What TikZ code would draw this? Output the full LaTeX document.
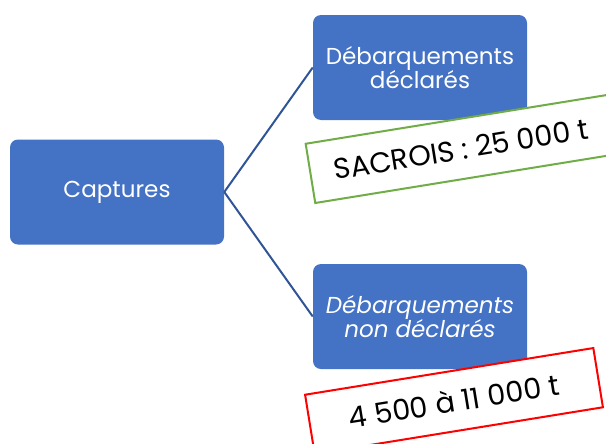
\documentclass[tikz,border=0pt]{standalone}
\usepackage{fontspec}
\setmainfont{Poppins}
\usetikzlibrary{positioning}

\definecolor{boxblue}{HTML}{4472C4}
\definecolor{linkblue}{HTML}{2F5597}
\definecolor{framegreen}{HTML}{70AD47}
\definecolor{framered}{HTML}{FF0000}

\tikzset{
  box/.style={fill=boxblue, draw=none, rounded corners=6pt, text=white,
    minimum width=160.5pt, minimum height=78.75pt, align=center,
    inner sep=0pt, font=\fontsize{17.3}{18.5}\selectfont},
  link/.style={draw=linkblue, line width=1.5pt},
  frame/.style={fill=white, line width=1.5pt, minimum height=45pt,
    inner sep=0pt, font=\fontsize{21.5}{24}\selectfont}
}

\begin{document}
\begin{tikzpicture}[x=0.75pt,y=-0.75pt]
  \useasboundingbox (0,0) rectangle (606,443);

  \node[box] (cap) at (117,192) {Captures};
  \node[box] (decl) at (420,67.5) {Débarquements\\déclarés};
  \node[box] (nondecl) at (420,316.5) {\itshape Débarquements\\\itshape non déclarés};

  \path[link] (cap.east) edge (decl.west);
  \path[link] (cap.east) edge (nondecl.west);

  \node[frame, draw=framegreen, minimum width=228.75pt, rotate=9.2] (sacrois) at (461,149) {SACROIS : 25 000 t};
  \node[frame, draw=framered, minimum width=219pt, rotate=9.2] (nondeclval) at (454,401) {4 500 à 11 000 t};
\end{tikzpicture}
\end{document}
